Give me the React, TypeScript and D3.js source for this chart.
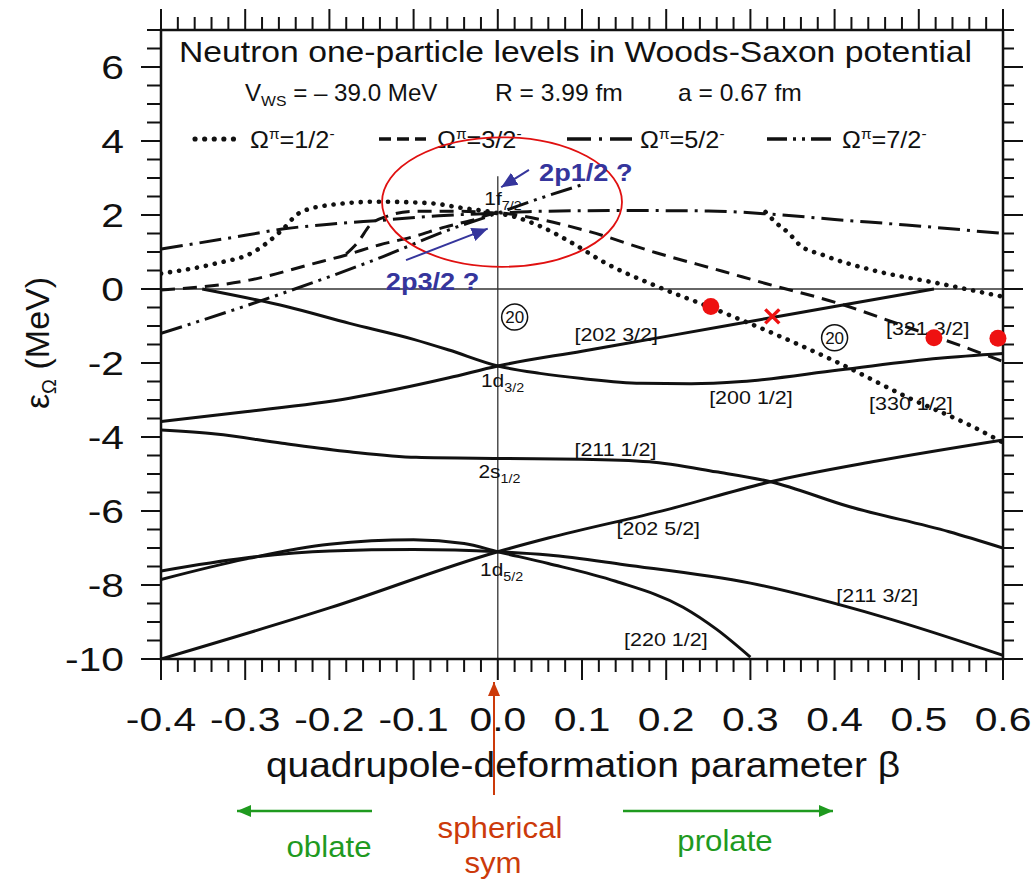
import React from "react";
import * as d3 from "d3";

type Pt = [number, number];

const W = 1033;
const H = 882;
const FONT = "'Liberation Sans', Arial, Helvetica, sans-serif";

// Axis extents and tick labels
const betaDomain: [number, number] = [-0.4, 0.6];
const energyDomain: [number, number] = [-10, 7];
const betaTicks = [-0.4, -0.3, -0.2, -0.1, 0, 0.1, 0.2, 0.3, 0.4, 0.5, 0.6];
const betaTickLabels = ["-0.4", "-0.3", "-0.2", "-0.1", "0.0", "0.1", "0.2", "0.3", "0.4", "0.5", "0.6"];
const energyTicks = [-10, -8, -6, -4, -2, 0, 2, 4, 6];

// Positive-parity (sd shell) one-particle levels, [beta, energy MeV]
const d52Omega52: Pt[] = [[-0.4, -10], [-0.2, -8.62], [0, -7.1], [0.06, -6.73], [0.2, -5.97], [0.324, -5.21], [0.45, -4.65], [0.6, -4.08]];
const d52Omega32: Pt[] = [[-0.4, -7.62], [-0.3, -7.27], [-0.2, -7.08], [-0.1, -7.04], [0, -7.1], [0.06, -7.19], [0.15, -7.45], [0.3, -7.95], [0.457, -8.86], [0.6, -9.9]];
const d52Omega12: Pt[] = [[-0.4, -7.85], [-0.3, -7.3], [-0.2, -6.9], [-0.1, -6.78], [-0.04, -6.88], [0, -7.1], [0.06, -7.42], [0.14, -7.9], [0.22, -8.6], [0.26, -9.2], [0.3, -9.95]];
const s12Omega12: Pt[] = [[-0.4, -3.81], [-0.335, -3.92], [-0.256, -4.17], [-0.176, -4.4], [-0.097, -4.55], [0, -4.58], [0.1, -4.6], [0.18, -4.67], [0.259, -4.94], [0.324, -5.21], [0.417, -5.88], [0.536, -6.56], [0.6, -7.0]];
const d32Omega32: Pt[] = [[-0.4, -3.58], [-0.3, -3.32], [-0.176, -2.95], [-0.058, -2.4], [0, -2.08], [0.1, -1.68], [0.2, -1.28], [0.326, -0.77], [0.42, -0.39], [0.518, 0]];
const d32Omega12: Pt[] = [[-0.351, 0], [-0.25, -0.48], [-0.176, -0.93], [-0.1, -1.36], [-0.058, -1.65], [0, -2.08], [0.05, -2.28], [0.1, -2.42], [0.17, -2.55], [0.23, -2.56], [0.29, -2.5], [0.405, -2.19], [0.524, -1.87], [0.6, -1.74]];

// Negative-parity (fp shell) one-particle levels
const f72Omega72: Pt[] = [[-0.4, -1.2], [-0.256, -0.12], [-0.137, 0.87], [-0.058, 1.6], [0, 2.05], [0.05, 2.45], [0.099, 2.81]];
const f72Omega52: Pt[] = [[-0.4, 1.08], [-0.3, 1.45], [-0.256, 1.62], [-0.2, 1.75], [-0.137, 1.86], [-0.07, 1.98], [0, 2.05], [0.05, 2.1], [0.15, 2.12], [0.25, 2.11], [0.326, 2.02], [0.4, 1.88], [0.485, 1.73], [0.6, 1.5]];
const f72Omega32: Pt[] = [[-0.4, -0.03], [-0.295, 0.24], [-0.22, 0.68], [-0.18, 0.92], [-0.141, 1.19], [-0.101, 1.41], [-0.062, 1.68], [-0.03, 1.86], [0, 2.05], [0.05, 1.88], [0.109, 1.55], [0.188, 0.98], [0.267, 0.48], [0.318, 0.15], [0.405, -0.39], [0.485, -1.02], [0.564, -1.65], [0.6, -1.96]];
const f72Omega32Upper: Pt[] = [[-0.18, 0.95], [-0.165, 1.3], [-0.152, 1.72], [-0.13, 1.98], [-0.1, 2.1], [-0.05, 2.1], [0, 2.05]];
const f72Omega12: Pt[] = [[-0.4, 0.42], [-0.335, 0.69], [-0.29, 1.0], [-0.256, 1.6], [-0.236, 2.05], [-0.2, 2.27], [-0.141, 2.36], [-0.081, 2.32], [-0.042, 2.19], [0, 2.05], [0.02, 1.95], [0.05, 1.7], [0.09, 1.22], [0.128, 0.7], [0.188, 0.08], [0.253, -0.5], [0.326, -1.19], [0.405, -2.0], [0.485, -2.91], [0.564, -3.72], [0.6, -4.15]];
const p12Omega12: Pt[] = [[0.318, 2.08], [0.33, 1.8], [0.346, 1.5], [0.358, 1.2], [0.386, 0.92], [0.445, 0.51], [0.524, 0.15], [0.6, -0.21]];

// Nilsson asymptotic labels: text, beta, energy (left edge / baseline)
const nilssonLabels: [string, number, number][] = [
  ["[202 3/2]", 0.091, -1.41],
  ["[200 1/2]", 0.251, -3.11],
  ["[330 1/2]", 0.441, -3.27],
  ["[321 3/2]", 0.461, -1.24],
  ["[211 1/2]", 0.091, -4.51],
  ["[202 5/2]", 0.141, -6.65],
  ["[211 3/2]", 0.402, -8.46],
  ["[220 1/2]", 0.15, -9.65],
];

// Spherical shell labels: main, subscript, beta, energy
const shellLabels: [string, string, number, number][] = [
  ["1f", "7/2", -0.016, 2.28],
  ["1d", "3/2", -0.02, -2.66],
  ["2s", "1/2", -0.023, -5.12],
  ["1d", "5/2", -0.021, -7.77],
];

// Magic number 20 markers
const magicCircles: Pt[] = [[0.02, -0.76], [0.4, -1.32]];

// Highlighted points
const redDots: Pt[] = [[0.253, -0.47], [0.518, -1.32], [0.594, -1.33]];
const redCross: Pt = [0.326, -0.74];

// Legend entries
const legendItems: [string, string][] = [
  ["dotted", "1/2"],
  ["dashed", "3/2"],
  ["dashDot", "5/2"],
  ["dashDotDot", "7/2"],
];
const legendX = [[195, 243, 250], [379, 426, 437], [567, 632, 640], [767, 833, 842]];

type StyleKey = "solid" | "dotted" | "dashed" | "dashDot" | "dashDotDot";
const lineStyles: Record<StyleKey, { w: number; dash?: string; legendDash?: string; cap: "round" | "butt" }> = {
  solid: { w: 3, cap: "butt" },
  dotted: { w: 4.6, dash: "0.1 9", legendDash: "0.1 9.5", cap: "round" },
  dashed: { w: 3, dash: "14 8", legendDash: "12 6", cap: "butt" },
  dashDot: { w: 3, dash: "22 7 3 7", legendDash: "24 8 3 8", cap: "butt" },
  dashDotDot: { w: 3, dash: "22 6 3 6 3 6", legendDash: "20 6 3 6 3 6", cap: "butt" },
};

const levels: [Pt[], StyleKey][] = [
  [d52Omega52, "solid"],
  [d52Omega32, "solid"],
  [d52Omega12, "solid"],
  [s12Omega12, "solid"],
  [d32Omega32, "solid"],
  [d32Omega12, "solid"],
  [f72Omega72, "dashDotDot"],
  [f72Omega52, "dashDot"],
  [f72Omega32, "dashed"],
  [f72Omega32Upper, "dashed"],
  [f72Omega12, "dotted"],
  [p12Omega12, "dotted"],
];

// Text drawn with a horizontal stretch about its anchor point
function WideText({ x, y, sx = 1, size, anchor = "start", fill = "#111", weight, children }: {
  x: number; y: number; sx?: number; size: number; anchor?: "start" | "middle" | "end";
  fill?: string; weight?: string; children: React.ReactNode;
}) {
  return (
    <text transform={`translate(${x},${y}) scale(${sx},1)`} fontSize={size} textAnchor={anchor} fill={fill} fontWeight={weight}>
      {children}
    </text>
  );
}

export default function App() {
  const x = d3.scaleLinear().domain(betaDomain).range([161, 1003]);
  const y = d3.scaleLinear().domain(energyDomain).range([659, 30]);
  const line = d3
    .line<Pt>()
    .x((d) => x(d[0]))
    .y((d) => y(d[1]))
    .curve(d3.curveMonotoneX);

  const [x0, x1] = x.range();
  const [yb, yt] = y.range();
  const betaMinor = d3.range(0, 51).map((i) => ({ v: -0.4 + i * 0.02, major: i % 5 === 0 }));
  const energyMinor = d3.range(0, 35).map((i) => ({ v: -10 + i * 0.5, major: (-10 + i * 0.5) % 2 === 0 }));

  const blue = "#35359c";
  const green = "#1f9a1f";
  const orange = "#cc3a0a";

  return (
    <svg
      width={W}
      height={H}
      viewBox={`0 0 ${W} ${H}`}
      style={{ position: "absolute", left: 0, top: 0, display: "block", background: "#fff" }}
      fontFamily={FONT}
    >
      <defs>
        <clipPath id="plotArea">
          <rect x={x0} y={yt} width={x1 - x0} height={yb - yt} />
        </clipPath>
        <marker id="blueHead" markerUnits="userSpaceOnUse" markerWidth={18} markerHeight={16} refX={16} refY={8} orient="auto">
          <path d="M0,1 L16,8 L0,15 Z" fill={blue} />
        </marker>
        <marker id="greenHead" markerUnits="userSpaceOnUse" markerWidth={16} markerHeight={14} refX={14} refY={7} orient="auto">
          <path d="M0,1 L14,7 L0,13 Z" fill={green} />
        </marker>
        <marker id="orangeHead" markerUnits="userSpaceOnUse" markerWidth={16} markerHeight={14} refX={14} refY={7} orient="auto">
          <path d="M0,1 L14,7 L0,13 Z" fill={orange} />
        </marker>
      </defs>
      <rect x={0} y={0} width={W} height={H} fill="#fff" />

      {/* Title and potential parameters */}
      <text x={179} y={62} fontSize={30} textLength={793} lengthAdjust="spacingAndGlyphs" fill="#111">
        Neutron one-particle levels in Woods-Saxon potential
      </text>
      <WideText x={245} y={101} sx={1.05} size={23}>
        V<tspan fontSize={15} dy={5}>WS</tspan>
        <tspan dy={-5}> = – 39.0 MeV</tspan>
      </WideText>
      <WideText x={495} y={101} sx={1.07} size={23}>R = 3.99 fm</WideText>
      <WideText x={678} y={101} sx={1.07} size={23}>a = 0.67 fm</WideText>

      {/* Legend */}
      {legendItems.map(([key, omega], i) => {
        const st = lineStyles[key as StyleKey];
        const [a, b, tx] = legendX[i];
        return (
          <g key={key}>
            <line x1={a} x2={b} y1={139} y2={139} stroke="#111" strokeWidth={st.w + 0.5}
              strokeDasharray={st.legendDash} strokeLinecap={st.cap} />
            <WideText x={tx} y={148} sx={1.1} size={23}>
              Ω<tspan fontSize={14} dy={-9}>π</tspan>
              <tspan dy={9}>={omega}</tspan>
              <tspan fontSize={14} dy={-9}>-</tspan>
            </WideText>
          </g>
        );
      })}

      {/* Reference lines */}
      <line x1={x0} x2={x1} y1={y(0)} y2={y(0)} stroke="#333" strokeWidth={1.3} />
      <line x1={x(0)} x2={x(0)} y1={y(3.05)} y2={yb} stroke="#333" strokeWidth={1.3} />

      {/* Level curves */}
      <g clipPath="url(#plotArea)">
        {levels.map(([pts, key], i) => {
          const st = lineStyles[key];
          return (
            <path key={i} d={line(pts) ?? ""} fill="none" stroke="#111" strokeWidth={st.w}
              strokeDasharray={st.dash} strokeLinecap={st.cap} strokeLinejoin="round" />
          );
        })}
      </g>

      {/* Frame and ticks */}
      <rect x={x0} y={yt} width={x1 - x0} height={yb - yt} fill="none" stroke="#111" strokeWidth={2.5} />
      {betaMinor.map(({ v, major }, i) => (
        <g key={`bx${i}`} stroke="#111" strokeWidth={2}>
          <line x1={x(v)} x2={x(v)} y1={yb} y2={yb + (major ? 21 : 13)} />
          <line x1={x(v)} x2={x(v)} y1={yt} y2={yt - (major ? 21 : 13)} />
        </g>
      ))}
      {energyMinor.map(({ v, major }, i) => (
        <g key={`ey${i}`} stroke="#111" strokeWidth={2}>
          <line x1={x0} x2={x0 - (major ? 20 : 14)} y1={y(v)} y2={y(v)} />
          <line x1={x1} x2={x1 + (major ? 20 : 11)} y1={y(v)} y2={y(v)} />
        </g>
      ))}
      {betaTicks.map((v, i) => (
        <WideText key={`bl${i}`} x={x(v)} y={731} sx={1.2} size={34} anchor="middle">
          {betaTickLabels[i]}
        </WideText>
      ))}
      {energyTicks.map((v) => (
        <WideText key={`el${v}`} x={124} y={y(v) + 12} sx={1.2} size={34} anchor="end">
          {v}
        </WideText>
      ))}

      {/* Axis titles */}
      <text x={266} y={777} fontSize={35} textLength={634} lengthAdjust="spacingAndGlyphs" fill="#111">
        quadrupole-deformation parameter β
      </text>
      <text transform={`translate(49,343) rotate(-90)`} fontSize={34} textAnchor="middle" fill="#111">
        ε<tspan fontSize={20} dy={7}>Ω</tspan>
        <tspan dy={-7}>{"  (MeV)"}</tspan>
      </text>

      {/* Level labels */}
      {nilssonLabels.map(([t, b, e]) => (
        <WideText key={t} x={x(b)} y={y(e)} sx={1.13} size={19}>{t}</WideText>
      ))}
      {shellLabels.map(([m, s, b, e], i) => (
        <WideText key={`sh${i}`} x={x(b)} y={y(e)} sx={1.1} size={19}>
          {m}
          <tspan fontSize={13} dy={5}>{s}</tspan>
        </WideText>
      ))}
      {magicCircles.map(([b, e], i) => (
        <g key={`mc${i}`}>
          <circle cx={x(b)} cy={y(e)} r={13} fill="none" stroke="#111" strokeWidth={1.5} />
          <text x={x(b)} y={y(e) + 6} fontSize={17} textAnchor="middle" fill="#111">20</text>
        </g>
      ))}

      {/* Highlights */}
      <ellipse cx={x(0.005)} cy={y(2.35)} rx={x(0.1475) - x(0.005)} ry={y(2.35) - y(4.1)} fill="none" stroke="#e01010" strokeWidth={1.8} />
      <line x1={x(0.037)} y1={y(3.22)} x2={x(0.004)} y2={y(2.75)} stroke={blue} strokeWidth={2} markerEnd="url(#blueHead)" />
      <WideText x={x(0.049)} y={y(2.92)} sx={1.18} size={23} weight="bold" fill={blue}>2p1/2 ?</WideText>
      <line x1={x(-0.109)} y1={y(0.78)} x2={x(-0.012)} y2={y(1.63)} stroke={blue} strokeWidth={2} markerEnd="url(#blueHead)" />
      <WideText x={x(-0.133)} y={y(-0.03)} sx={1.18} size={23} weight="bold" fill={blue}>2p3/2 ?</WideText>
      {redDots.map(([b, e], i) => (
        <circle key={`rd${i}`} cx={x(b)} cy={y(e)} r={8.5} fill="#ee1111" />
      ))}
      <g stroke="#ee1111" strokeWidth={3.5}>
        <line x1={x(redCross[0]) - 7} y1={y(redCross[1]) - 7} x2={x(redCross[0]) + 7} y2={y(redCross[1]) + 7} />
        <line x1={x(redCross[0]) - 7} y1={y(redCross[1]) + 7} x2={x(redCross[0]) + 7} y2={y(redCross[1]) - 7} />
      </g>

      {/* Deformation direction notes */}
      <line x1={494} y1={795} x2={494} y2={682} stroke={orange} strokeWidth={2} markerEnd="url(#orangeHead)" />
      <WideText x={500} y={838} sx={1.04} size={30} anchor="middle" fill={orange}>spherical</WideText>
      <WideText x={493} y={873} sx={1.04} size={30} anchor="middle" fill={orange}>sym</WideText>
      <line x1={372} y1={811} x2={237} y2={811} stroke={green} strokeWidth={2.5} markerEnd="url(#greenHead)" />
      <WideText x={329} y={857} sx={1.04} size={30} anchor="middle" fill={green}>oblate</WideText>
      <line x1={623} y1={811} x2={833} y2={811} stroke={green} strokeWidth={2.5} markerEnd="url(#greenHead)" />
      <WideText x={725} y={851} sx={1.04} size={30} anchor="middle" fill={green}>prolate</WideText>
    </svg>
  );
}
